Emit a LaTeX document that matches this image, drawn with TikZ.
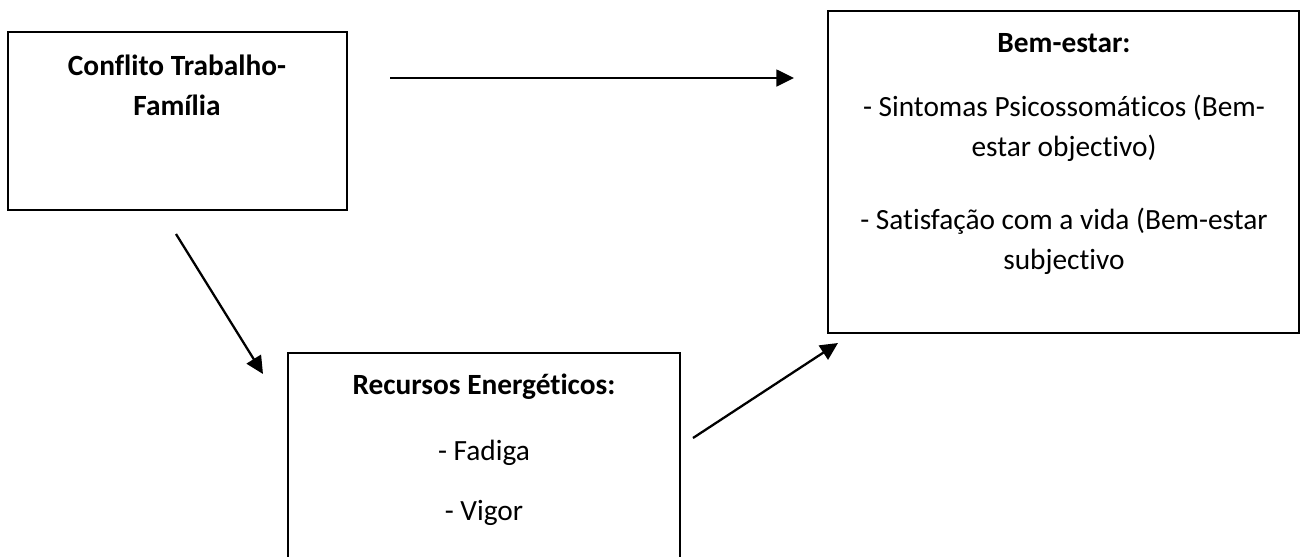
\documentclass[tikz,border=0pt]{standalone}
\usepackage{fontspec}
\setmainfont{Carlito}[Ligatures=NoCommon]
\usetikzlibrary{arrows.meta}
\tikzset{
  caixa/.style={draw=black, line width=1.1pt, rectangle, inner sep=0pt},
  seta/.style={-{Triangle[length=10pt,width=9.5pt]}, line width=1.3pt},
  texto/.style={align=center, font=\fontsize{16.7}{22.8}\selectfont, inner sep=0pt}
}
\begin{document}
\begin{tikzpicture}[x=0.02cm,y=-0.02cm]
\useasboundingbox (0,0) rectangle (1303,556);
\clip (0,0) rectangle (1303,556);
% caixas
\node[caixa, minimum width=6.78cm, minimum height=3.56cm] (conflito) at (177.5,121) {};
\node[caixa, minimum width=9.42cm, minimum height=6.44cm] (bemestar) at (1063.5,172) {};
\node[caixa, minimum width=7.84cm, minimum height=4.6cm] (recursos) at (484,468) {};
% textos
\node[texto] (tconflito) at (177,85) {\bfseries Conflito Trabalho-\\\bfseries Família};
\node[texto] (tbem) at (1064,43) {\bfseries Bem-estar:};
\node[texto] (tsintomas) at (1064,128) {- Sintomas Psicossomáticos (Bem-\\estar objectivo)};
\node[texto] (tsatisf) at (1064,241) {- Satisfação com a vida (Bem-estar\\subjectivo};
\node[texto] (trecursos) at (484,387) {\bfseries Recursos Energéticos:};
\node[texto] (tfadiga) at (484,453) {- Fadiga};
\node[texto] (tvigor) at (484,513) {- Vigor};
% setas
\coordinate (h1) at (390,78);
\coordinate (h2) at (794,78);
\coordinate (d1) at (176,234);
\coordinate (d2) at (263,374);
\coordinate (u1) at (693,438);
\coordinate (u2) at (838,343);
\draw[seta] (h1) -- (h2);
\draw[seta] (d1) -- (d2);
\draw[seta] (u1) -- (u2);
\end{tikzpicture}
\end{document}
